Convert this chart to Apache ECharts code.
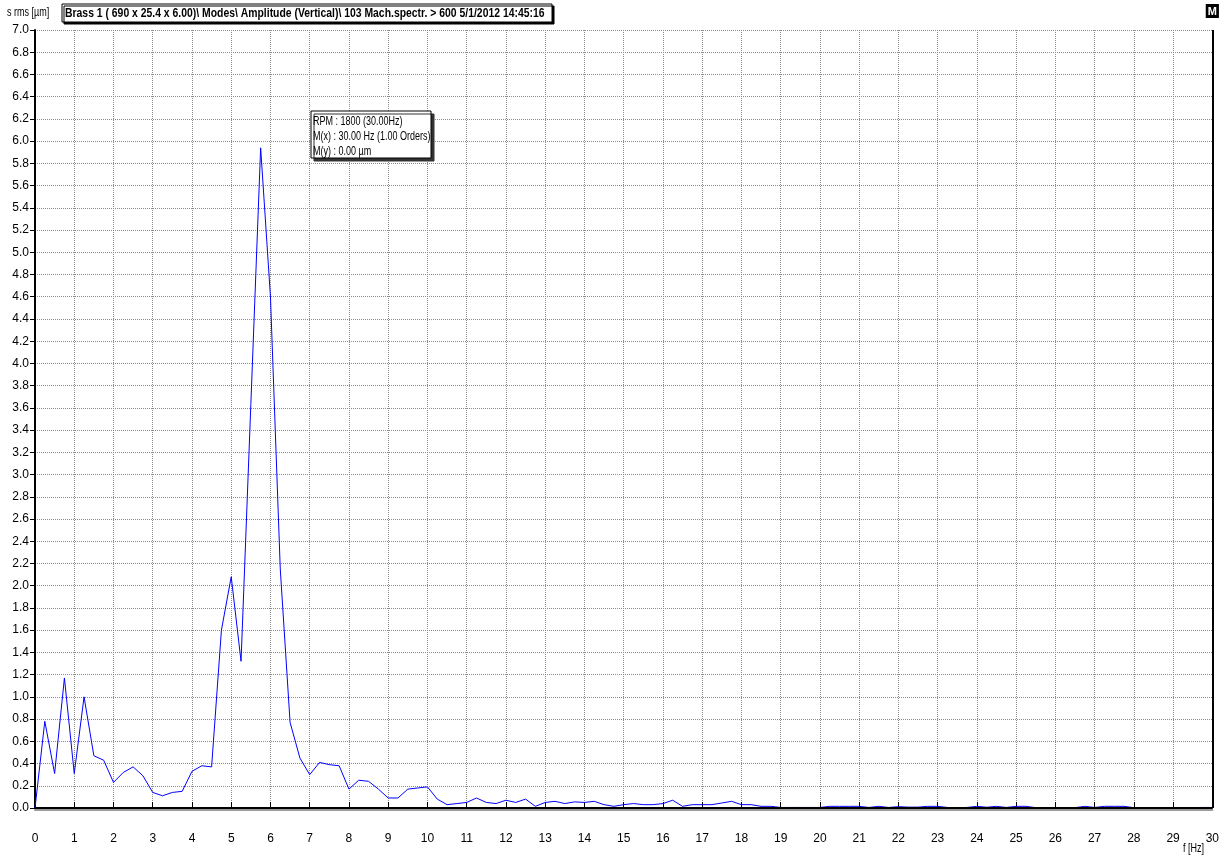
<!DOCTYPE html>
<html>
<head>
<meta charset="utf-8">
<script src="https://cdn.jsdelivr.net/npm/echarts@6/dist/echarts.min.js"></script>
<style>
  html, body { margin: 0; padding: 0; background: #fff; }
  #spectrum { width: 1222px; height: 860px; }
</style>
</head>
<body>
<div id="spectrum"></div>
<script>
// spectral line spacing of the measurement [Hz]
const freqStep = 0.25;

// amplitude s rms [µm], one value per spectral line, 0 .. 30 Hz (4 per Hz)
const amplitude = [
  0.00, 0.78, 0.31, 1.17,      // 0
  0.31, 1.00, 0.47, 0.43,      // 1
  0.23, 0.32, 0.37, 0.29,      // 2
  0.14, 0.11, 0.14, 0.15,      // 3
  0.33, 0.38, 0.37, 1.60,      // 4
  2.08, 1.32, 3.63, 5.94,      // 5
  4.60, 2.15, 0.77, 0.45,      // 6
  0.30, 0.41, 0.39, 0.38,      // 7
  0.17, 0.25, 0.24, 0.17,      // 8
  0.09, 0.09, 0.17, 0.18,      // 9
  0.19, 0.08, 0.03, 0.04,      // 10
  0.05, 0.09, 0.05, 0.04,      // 11
  0.07, 0.05, 0.08, 0.015,     // 12
  0.05, 0.06, 0.04, 0.055,     // 13
  0.05, 0.06, 0.03, 0.015,     // 14
  0.03, 0.04, 0.03, 0.03,      // 15
  0.04, 0.07, 0.015, 0.03,     // 16
  0.03, 0.03, 0.045, 0.06,     // 17
  0.03, 0.03, 0.015, 0.015,    // 18
  0.005, 0.005, 0.005, 0.005,  // 19
  0.005, 0.015, 0.015, 0.015,  // 20
  0.015, 0.005, 0.015, 0.005,  // 21
  0.012, 0.008, 0.008, 0.015,  // 22
  0.015, 0.005, 0.003, 0.005,  // 23
  0.015, 0.007, 0.015, 0.005,  // 24
  0.015, 0.015, 0.003, 0.003,  // 25
  0.003, 0.003, 0.003, 0.015,  // 26
  0.005, 0.015, 0.015, 0.015,  // 27
  0.003, 0.003, 0.003, 0.003,  // 28
  0.003, -0.004, 0.003, 0.005, // 29
  0.005                        // 30
];

const headerText = "Brass 1 ( 690 x 25.4 x 6.00)\\ Modes\\ Amplitude (Vertical)\\ 103 Mach.spectr. > 600 5/1/2012 14:45:16";
const markerInfo = ["RPM : 1800 (30.00Hz)", "M(x) : 30.00 Hz (1.00 Orders)", "M(y) : 0.00 µm"];
const markerX = 30;
const markerY = 0;

const font = '"Liberation Sans", Arial, sans-serif';
// squeeze Liberation Sans to an Arial Narrow look
const narrowBold = 0.80;
const narrow = 0.75;

let chartDom = echarts.init(document.getElementById("spectrum"));
let points = amplitude.map((a, i) => [i * freqStep, a]);

chartDom.setOption({
  animation: false,
  textStyle: { fontFamily: font },
  graphic: [
    {
      type: "group",
      x: 62,
      y: 4,
      children: [
        {
          type: "rect",
          z: 1,
          shape: { x: 0, y: 0, width: 490, height: 18 },
          style: {
            fill: "#fff",
            stroke: "#000",
            lineWidth: 1,
            shadowColor: "#000",
            shadowOffsetX: 2,
            shadowOffsetY: 2,
          },
        },
        {
          type: "text",
          z: 2,
          x: 3,
          y: 9.5,
          scaleX: narrowBold,
          style: {
            text: headerText,
            fontFamily: font,
            fontSize: 13,
            fontWeight: "bold",
            fill: "#000",
            verticalAlign: "middle",
          },
        },
      ],
    },
    {
      type: "group",
      x: 311,
      y: 111,
      children: [
        {
          type: "rect",
          z: 1,
          shape: { x: 0, y: 0, width: 120, height: 47 },
          style: {
            fill: "#fff",
            stroke: "#000",
            lineWidth: 1,
            shadowColor: "#333",
            shadowOffsetX: 3,
            shadowOffsetY: 3,
          },
        },
        {
          type: "text",
          z: 2,
          x: 2,
          y: 3,
          scaleX: narrow,
          style: {
            text: markerInfo.join("\n"),
            fontFamily: font,
            fontSize: 12,
            lineHeight: 15,
            fill: "#000",
            verticalAlign: "top",
          },
        },
      ],
    },
    {
      type: "text",
      x: 7,
      y: 13,
      scaleX: narrow,
      style: {
        text: "s rms [µm]",
        fontFamily: font,
        fontSize: 12,
        fill: "#000",
        verticalAlign: "middle",
      },
    },
    {
      type: "text",
      x: 1183,
      y: 849,
      scaleX: narrow,
      style: {
        text: "f [Hz]",
        fontFamily: font,
        fontSize: 12,
        fill: "#000",
        verticalAlign: "middle",
      },
    },
  ],
  grid: {
    left: 35,
    right: 9,
    top: 30,
    bottom: 52,
  },
  xAxis: [
    {
      type: "value",
      min: 0,
      max: 30,
      interval: 1,
      position: "bottom",
      offset: 15,
      axisLine: { show: true, lineStyle: { color: "#000", width: 1.5 } },
      axisTick: { show: true, inside: true, length: 6, lineStyle: { color: "#000" } },
      axisLabel: { color: "#000", fontSize: 12, margin: 10, fontFamily: font },
      splitLine: {
        show: true,
        lineStyle: { type: "dotted", color: "#8c8c8c", width: 1 },
      },
    },
    {
      type: "value",
      min: 0,
      max: 30,
      position: "bottom",
      offset: 2,
      axisLine: { show: true, lineStyle: { color: "#9a9a9a", width: 2 } },
      axisTick: { show: false },
      axisLabel: { show: false },
      splitLine: { show: false },
    },
  ],
  yAxis: {
    type: "value",
    min: 0,
    max: 7,
    interval: 0.2,
    axisLine: { show: true, lineStyle: { color: "#000", width: 2 } },
    axisTick: { show: true, length: 5, lineStyle: { color: "#000" } },
    axisLabel: {
      color: "#000",
      fontSize: 12,
      margin: 6,
      fontFamily: font,
      formatter: (v) => v.toFixed(1),
    },
    splitLine: {
      show: true,
      lineStyle: { type: "dotted", color: "#8c8c8c", width: 1 },
    },
  },
  series: [
    {
      type: "line",
      data: points,
      showSymbol: false,
      lineStyle: { color: "#0000ff", width: 1 },
      silent: true,
      markLine: {
        silent: true,
        symbol: "none",
        animation: false,
        lineStyle: { color: "#000", width: 2, type: "solid" },
        data: [
          { yAxis: markerY, label: { show: false } },
          {
            xAxis: markerX,
            label: {
              show: true,
              position: "end",
              distance: 12,
              formatter: "M",
              color: "#fff",
              backgroundColor: "#000",
              fontWeight: "bold",
              fontSize: 11,
              padding: [2, 2, 1, 2],
            },
          },
        ],
      },
    },
  ],
});
</script>
</body>
</html>
